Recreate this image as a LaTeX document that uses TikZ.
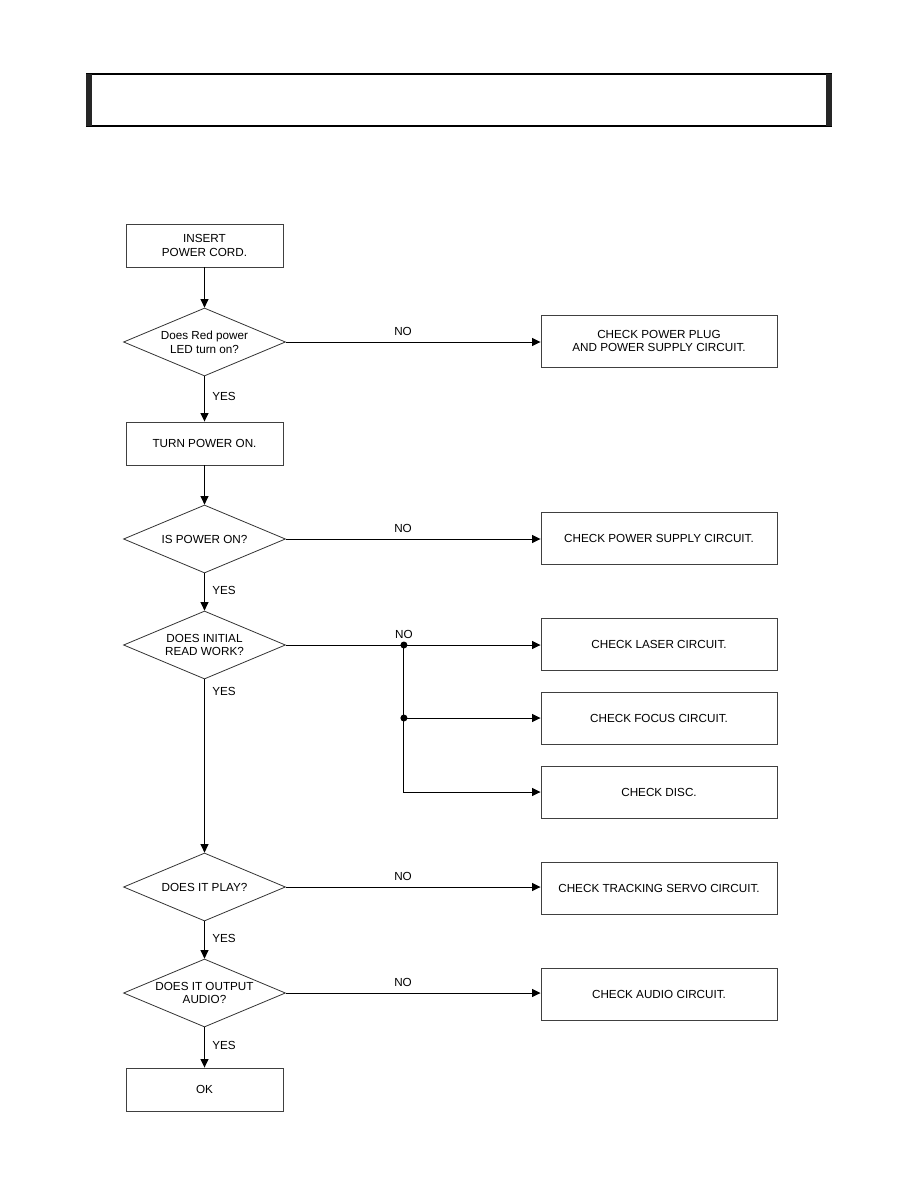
\documentclass[tikz,border=0pt]{standalone}
\usepackage{fontspec}
\setmainfont{Liberation Sans}
\usetikzlibrary{arrows.meta,shapes.geometric,calc}

\begin{document}
\begin{tikzpicture}[x=1pt,y=-1pt,>={Triangle[length=8.5pt,width=8pt]},
  font=\fontsize{11.7}{13.7}\selectfont,
  stepbox/.style={draw=black!75,line width=.9pt,minimum width=157pt,minimum height=43pt,align=center,inner sep=0pt},
  chkbox/.style={draw=black!75,line width=.9pt,minimum width=236pt,minimum height=52pt,align=center,inner sep=0pt},
  ask/.style={diamond,draw=black!80,line width=.8pt,aspect=2.38,minimum width=162pt,minimum height=68pt,align=center,inner sep=0pt},
  flow/.style={line width=1pt,->},
  dot/.style={circle,fill,inner sep=0pt,minimum size=7pt}]
\useasboundingbox (0,0) rectangle (914,1190);
% header bar
\draw[line width=1.4pt] (87,74) rectangle (831,126);
\fill[black!85] (86,74) rectangle (92,126);
\fill[black!85] (826,74) rectangle (832,126);
% main column
\node[stepbox] (ins) at (204.5,245.5) {INSERT\\POWER CORD.};
\node[ask] (qled) at (204.5,342) {Does Red power\\LED turn on?};
\node[stepbox] (pon) at (204.5,443.5) {TURN POWER ON.};
\node[ask] (qpow) at (204.5,539) {IS POWER ON?};
\node[ask] (qread) at (204.5,645) {DOES INITIAL\\READ WORK?};
\node[ask] (qplay) at (204.5,887) {DOES IT PLAY?};
\node[ask] (qaudio) at (204.5,993) {DOES IT OUTPUT\\AUDIO?};
\node[stepbox] (ok) at (204.5,1089.5) {OK};
% check boxes
\node[chkbox] (chkplug) at (659,341) {CHECK POWER PLUG\\AND POWER SUPPLY CIRCUIT.};
\node[chkbox] (chkpsu) at (659,538) {CHECK POWER SUPPLY CIRCUIT.};
\node[chkbox] (chklaser) at (659,644) {CHECK LASER CIRCUIT.};
\node[chkbox] (chkfocus) at (659,718) {CHECK FOCUS CIRCUIT.};
\node[chkbox] (chkdisc) at (659,792) {CHECK DISC.};
\node[chkbox] (chktrack) at (659,888) {CHECK TRACKING SERVO CIRCUIT.};
\node[chkbox] (chkaudio) at (659,994) {CHECK AUDIO CIRCUIT.};
% yes path
\draw[flow] (ins) -- (qled);
\draw[flow] (qled) -- node[right=4pt,pos=.45]{YES} (pon);
\draw[flow] (pon) -- (qpow);
\draw[flow] (qpow) -- node[right=4pt,pos=.45]{YES} (qread);
\draw[flow] (qread) -- node[right=4pt,pos=.07]{YES} (qplay);
\draw[flow] (qplay) -- node[right=4pt,pos=.45]{YES} (qaudio);
\draw[flow] (qaudio) -- node[right=4pt,pos=.45]{YES} (ok);
% no path
\draw[flow] (qled.east) -- node[above=3pt,pos=.46]{NO} (qled.east -| chkplug.west);
\draw[flow] (qpow.east) -- node[above=3pt,pos=.46]{NO} (qpow.east -| chkpsu.west);
\path (qread.east) ++(118,0) coordinate (j1) ++(0,73) coordinate (j2);
\draw[flow] (qread.east) -- (qread.east -| chklaser.west);
\node[above=3pt] at (j1) {NO};
\draw[flow] (j1) |- (chkdisc.west);
\draw[flow] (j2) -- (j2 -| chkfocus.west);
\node[dot] at (j1) {};
\node[dot] at (j2) {};
\draw[flow] (qplay.east) -- node[above=3pt,pos=.46]{NO} (qplay.east -| chktrack.west);
\draw[flow] (qaudio.east) -- node[above=3pt,pos=.46]{NO} (qaudio.east -| chkaudio.west);
\end{tikzpicture}
\end{document}
